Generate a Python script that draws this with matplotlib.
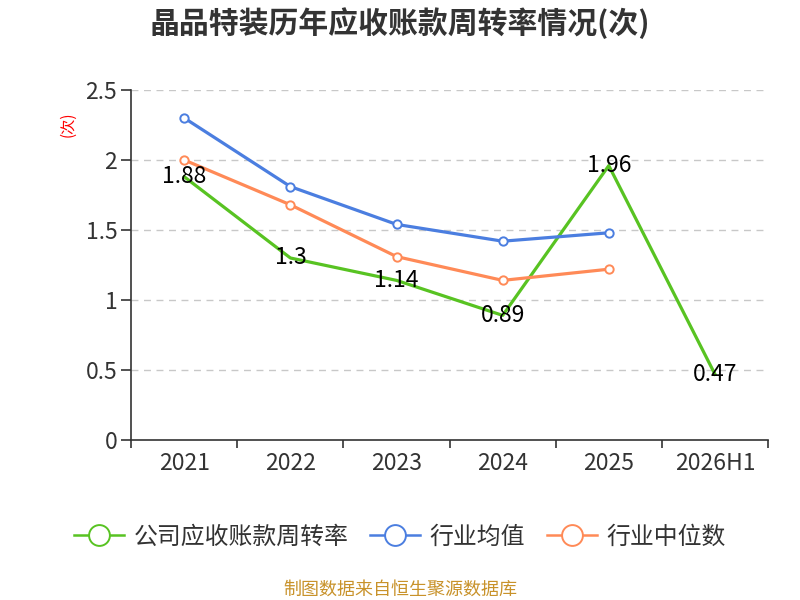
import matplotlib
matplotlib.use("Agg")
from matplotlib import pyplot as plt
from matplotlib.lines import Line2D
import numpy as np

plt.rcParams['font.family'] = ['Noto Sans CJK SC', 'DejaVu Sans']

years = ["2021", "2022", "2023", "2024", "2025", "2026H1"]
company = [1.88, 1.3, 1.14, 0.89, 1.96, 0.47]
industry_mean = [2.30, 1.81, 1.54, 1.42, 1.48]
industry_median = [2.00, 1.68, 1.31, 1.14, 1.22]

green = "#58C322"
blue = "#4B7EE0"
orange = "#FF8A57"

fig = plt.figure(figsize=(8, 6), dpi=100)
ax = fig.add_axes([0.164, 0.2667, 0.796, 0.5833])

x = np.arange(len(years))
ax.plot(x, company, color=green, lw=2.3, zorder=3)
ax.plot(x[:len(industry_mean)], industry_mean, color=blue, lw=2.3, marker="o",
        ms=6, mfc="white", mec=blue, mew=1.4, zorder=3)
ax.plot(x[:len(industry_median)], industry_median, color=orange, lw=2.3, marker="o",
        ms=6, mfc="white", mec=orange, mew=1.4, zorder=3)

for i, v in enumerate(company):
    ax.text(x[i], v, f"{v:g}", ha="center", va="center", fontsize=16.5,
            color="black", zorder=4)

ax.set_xlim(-0.5, len(years) - 0.5)
ax.set_ylim(0, 2.5)
ax.set_yticks([0, 0.5, 1, 1.5, 2, 2.5])
ax.set_yticklabels(["0", "0.5", "1", "1.5", "2", "2.5"])
ax.set_xticks(x)
ax.set_xticklabels(years)
ax.set_xticks(np.arange(-0.5, len(years)), minor=True)
ax.tick_params(axis="x", which="major", length=0, pad=9, labelsize=16.5, labelcolor="#333333")
ax.tick_params(axis="x", which="minor", length=6, width=1.2, color="#333333")
ax.tick_params(axis="y", length=7, width=1.2, color="#333333", labelsize=16.5,
               labelcolor="#333333", pad=3)

for yv in [0.5, 1, 1.5, 2, 2.5]:
    ax.axhline(yv, color="#c8c8c8", lw=1, ls=(0, (5, 4)), zorder=1)

for s in ["top", "right"]:
    ax.spines[s].set_visible(False)
for s in ["left", "bottom"]:
    ax.spines[s].set_color("#333333")
    ax.spines[s].set_linewidth(1.2)

fig.text(0.085, 0.793, "(次)", rotation=90, color="red", fontsize=11,
         ha="center", va="center")

fig.text(0.5, 0.962, "晶品特装历年应收账款周转率情况(次)", ha="center", va="center",
         fontsize=21.5, fontweight="bold", color="#333333")

handles = [
    Line2D([], [], color=green, lw=1.8, marker="o", ms=15, mfc="white", mec=green, mew=1.4),
    Line2D([], [], color=blue, lw=1.8, marker="o", ms=15, mfc="white", mec=blue, mew=1.4),
    Line2D([], [], color=orange, lw=1.8, marker="o", ms=15, mfc="white", mec=orange, mew=1.4),
]
fig.legend(handles, ["公司应收账款周转率", "行业均值", "行业中位数"], loc="center",
           bbox_to_anchor=(0.5, 0.105), ncol=3, frameon=False, fontsize=17.2,
           handlelength=2.1, handletextpad=0.4, columnspacing=0.9,
           labelcolor="#333333")

fig.text(0.5, 0.018, "制图数据来自恒生聚源数据库", ha="center", va="center",
         fontsize=13, color="#C8922A")

fig.savefig("out.png", dpi=100)
